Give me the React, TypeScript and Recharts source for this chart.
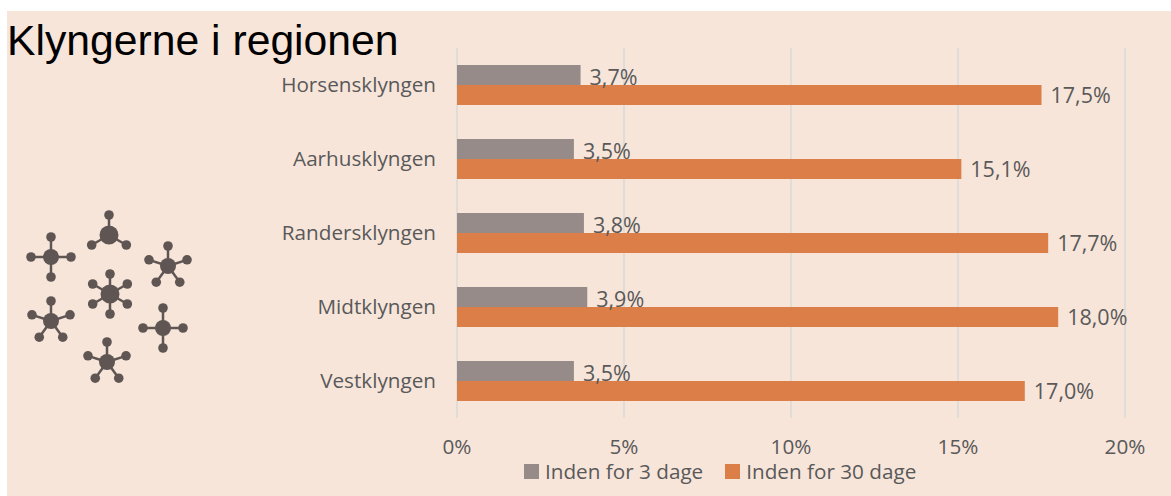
import { BarChart, Bar, XAxis, YAxis, CartesianGrid, LabelList } from "recharts"

const clusters = ["Horsensklyngen", "Aarhusklyngen", "Randersklyngen", "Midtklyngen", "Vestklyngen"]
const within3Days = [3.7, 3.5, 3.8, 3.9, 3.5]
const within30Days = [17.5, 15.1, 17.7, 18.0, 17.0]
const xTicks = [0, 5, 10, 15, 20]

const chartData = clusters.map((name, i) => ({
  name,
  d3: within3Days[i],
  d30: within30Days[i],
}))

const FONT = '"Open Sans", sans-serif'
const FONT_SIZE = 20.7
const LABEL_SIZE = 21.5
const TEXT = "#595959"
const GRAY = "#968b89"
const ORANGE = "#dc7e47"
const ICON = "#5f5654"

// [cx, cy, hub radius, arm angles]
const molecules: Array<[number, number, number, number[]]> = [
  [51, 257, 8, [0, 90, 180, 270]],
  [109, 235, 9.5, [270, 30, 150]],
  [168, 266, 8, [270, 342, 54, 126, 198]],
  [110, 294, 9.5, [270, 330, 30, 90, 150, 210]],
  [51, 321, 8, [270, 342, 54, 126, 198]],
  [163, 328, 8, [0, 90, 180, 270]],
  [107, 362, 8, [270, 342, 54, 126, 198]],
]

function Molecules() {
  return (
    <svg width={210} height={210} viewBox="0 190 210 210" style={{ position: "absolute", left: 0, top: 190 }}>
      {molecules.map(([cx, cy, r, arms], i) => (
        <g key={i} fill={ICON} stroke={ICON}>
          <circle cx={cx} cy={cy} r={r} strokeWidth={0} />
          {arms.map((a) => {
            const x = cx + 20 * Math.cos((a * Math.PI) / 180)
            const y = cy + 20 * Math.sin((a * Math.PI) / 180)
            return (
              <g key={a}>
                <line x1={cx} y1={cy} x2={x} y2={y} strokeWidth={2.5} />
                <circle cx={x} cy={y} r={4.8} strokeWidth={0} />
              </g>
            )
          })}
        </g>
      ))}
    </svg>
  )
}

function Legend() {
  const items = [
    { label: "Inden for 3 dage", color: GRAY },
    { label: "Inden for 30 dage", color: ORANGE },
  ]
  return (
    <div style={{ position: "absolute", left: 524, top: 462, display: "flex", fontFamily: FONT, fontSize: FONT_SIZE, color: TEXT, lineHeight: "18px", whiteSpace: "nowrap" }}>
      {items.map((it) => (
        <div key={it.label} style={{ display: "flex", alignItems: "center", marginRight: 22 }}>
          <span style={{ width: 15, height: 15, background: it.color, marginRight: 6 }} />
          {it.label}
        </div>
      ))}
    </div>
  )
}

const pct = (v: number) => `${v.toFixed(1).replace(".", ",")}%`

export default function App() {
  return (
    <div style={{ position: "absolute", left: 0, top: 0, width: 1171, height: 496, background: "#fff", overflow: "hidden" }}>
      <div style={{ position: "absolute", left: 7, top: 11, width: 1164, height: 485, background: "#f7e5da" }} />
      <div style={{ position: "absolute", left: 7, top: 13, fontFamily: "Liberation Sans, Arial, sans-serif", fontSize: 42.7, color: "#000", lineHeight: "54px", whiteSpace: "nowrap" }}>
        Klyngerne i regionen
      </div>
      <Molecules />
      <div style={{ position: "absolute", left: 0, top: 0 }}>
        <BarChart
          width={1171}
          height={496}
          data={chartData}
          layout="vertical"
          barSize={20}
          barGap={0}
          margin={{ top: 48, right: 46, bottom: 48, left: 0 }}
          style={{ fontFamily: FONT }}
        >
          <CartesianGrid horizontal={false} stroke="#e0dcd8" strokeWidth={2} />
          <XAxis
            type="number"
            domain={[0, 20]}
            ticks={xTicks}
            tickFormatter={(v) => `${v}%`}
            axisLine={false}
            tickLine={false}
            tick={{ fill: TEXT, fontSize: FONT_SIZE }}
            tickMargin={15}
            height={30}
          />
          <YAxis
            type="category"
            dataKey="name"
            axisLine={false}
            tickLine={false}
            width={457}
            tick={{ fill: TEXT, fontSize: FONT_SIZE }}
            tickMargin={15}
            interval={0}
          />
          <Bar dataKey="d3" fill={GRAY} isAnimationActive={false}>
            <LabelList dataKey="d3" position="right" offset={9} dy={2} fill={TEXT} fontSize={LABEL_SIZE} formatter={pct} />
          </Bar>
          <Bar dataKey="d30" fill={ORANGE} isAnimationActive={false}>
            <LabelList dataKey="d30" position="right" offset={9} fill={TEXT} fontSize={LABEL_SIZE} formatter={pct} />
          </Bar>
        </BarChart>
      </div>
      <Legend />
    </div>
  )
}
